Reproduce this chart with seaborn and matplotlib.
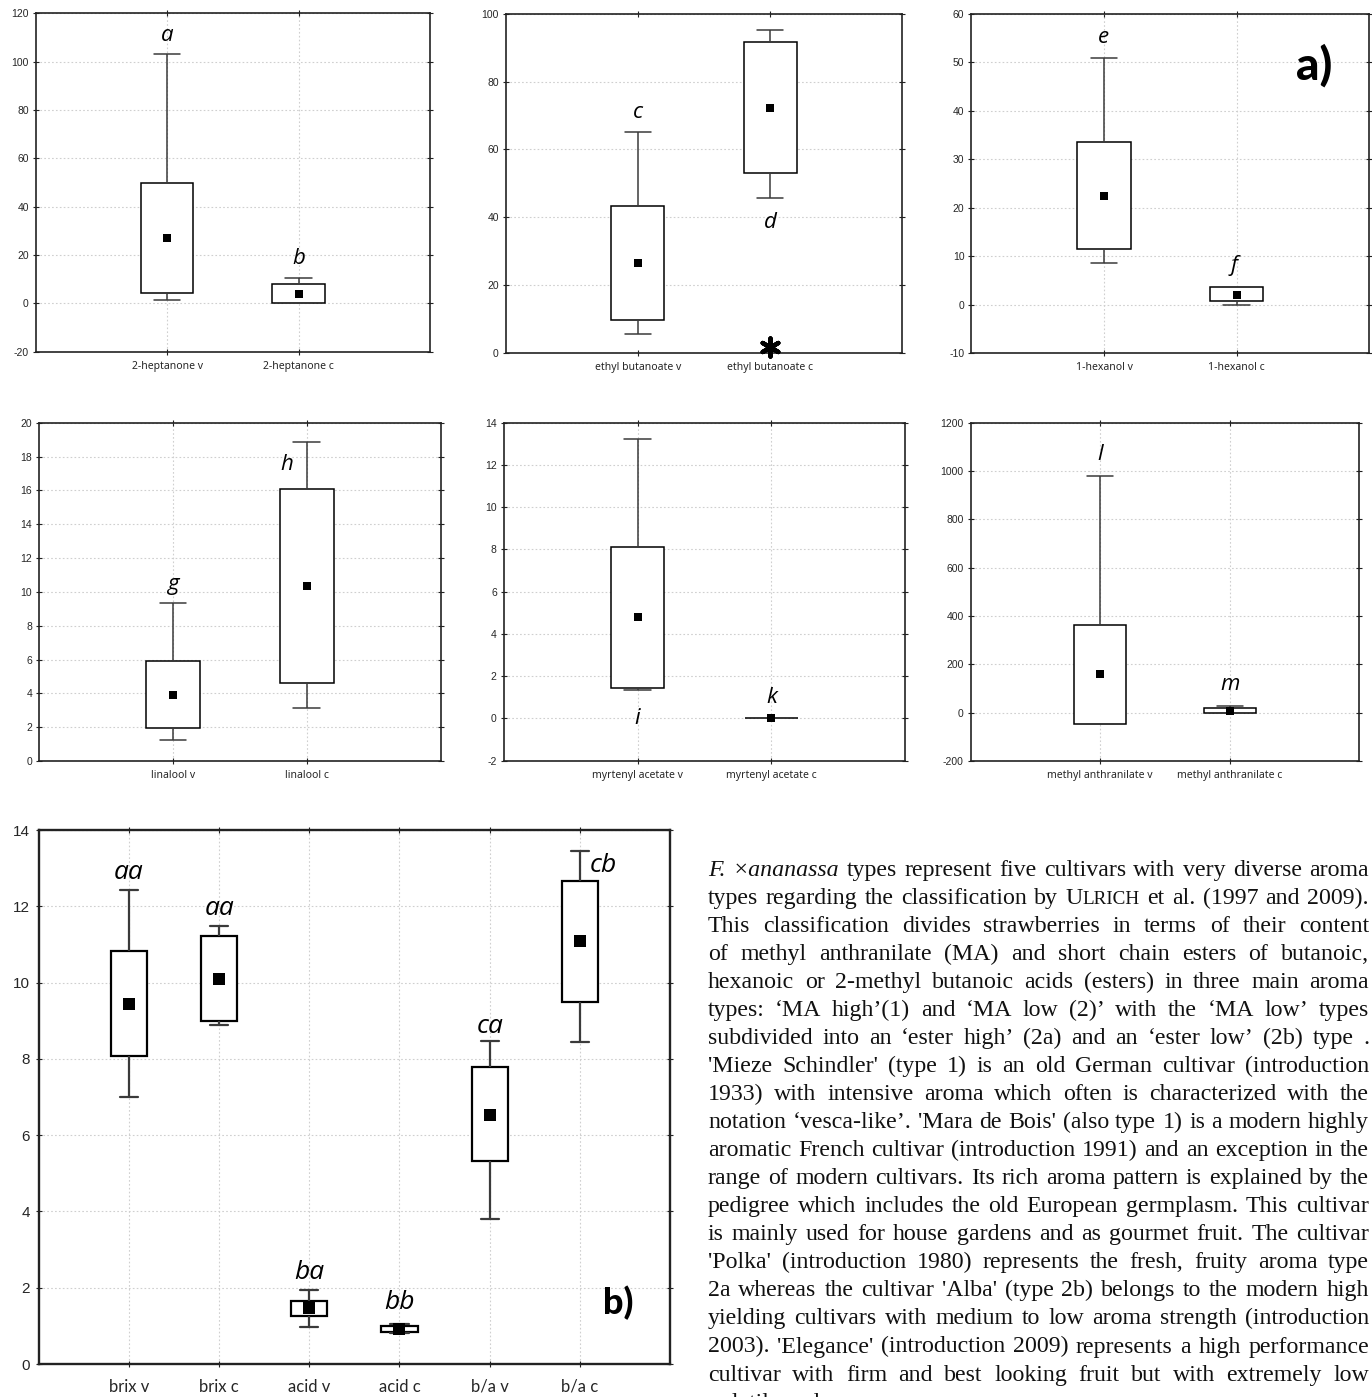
import numpy as np
import pandas as pd
import matplotlib
matplotlib.use("Agg")
import matplotlib.pyplot as plt
import seaborn as sns

W, H, DPI = 1372, 1397, 100

# ---------------- data (whisker low, box low, mean, box high, whisker high) -------------
hep_cats = ["2-heptanone v", "2-heptanone c"]
hep_wlo = [1.2, 0.0]
hep_blo = [4.3, 0.0]
hep_mean = [26.9, 3.9]
hep_bhi = [49.8, 7.9]
hep_whi = [103.2, 10.6]
hep_letters = ["a", "b"]
hep_letter_y = [111, 18.6]
hep_letter_dx = [0, 0]

eth_cats = ["ethyl butanoate v", "ethyl butanoate c"]
eth_wlo = [5.4, 45.7]
eth_blo = [9.6, 53.0]
eth_mean = [26.6, 72.2]
eth_bhi = [43.4, 91.6]
eth_whi = [65.1, 95.3]
eth_letters = ["c", "d"]
eth_letter_y = [70.9, 38.4]
eth_letter_dx = [0, 0]
eth_outlier_cat = ["ethyl butanoate c"]
eth_outlier_val = [1.6]

hex_cats = ["1-hexanol v", "1-hexanol c"]
hex_wlo = [8.7, 0.05]
hex_blo = [11.5, 0.7]
hex_mean = [22.5, 2.1]
hex_bhi = [33.6, 3.6]
hex_whi = [51.0, 3.6]
hex_letters = ["e", "f"]
hex_letter_y = [55.1, 8.2]
hex_letter_dx = [0, -0.02]

lin_cats = ["linalool v", "linalool c"]
lin_wlo = [1.26, 3.13]
lin_blo = [1.95, 4.63]
lin_mean = [3.92, 10.36]
lin_bhi = [5.89, 16.06]
lin_whi = [9.36, 18.86]
lin_letters = ["g", "h"]
lin_letter_y = [10.44, 17.5]
lin_letter_dx = [0, -0.15]

myr_cats = ["myrtenyl acetate v", "myrtenyl acetate c"]
myr_wlo = [1.33, 0.0]
myr_blo = [1.44, 0.0]
myr_mean = [4.78, 0.0]
myr_bhi = [8.13, 0.0]
myr_whi = [13.25, 0.0]
myr_letters = ["i", "k"]
myr_letter_y = [0.0, 0.98]
myr_letter_dx = [0, 0]

mea_cats = ["methyl anthranilate v", "methyl anthranilate c"]
mea_wlo = [-45.5, -2.8]
mea_blo = [-45.5, -2.8]
mea_mean = [158.6, 8.3]
mea_bhi = [364.0, 17.9]
mea_whi = [980.7, 27.6]
mea_letters = ["l", "m"]
mea_letter_y = [1067, 116]
mea_letter_dx = [0, 0]

qual_cats = ["brix v", "brix c", "acid v", "acid c", "b/a v", "b/a c"]
qual_wlo = [6.99, 8.89, 0.98, 0.82, 3.80, 8.44]
qual_blo = [8.07, 8.98, 1.25, 0.83, 5.31, 9.49]
qual_mean = [9.45, 10.09, 1.46, 0.92, 6.54, 11.08]
qual_bhi = [10.83, 11.21, 1.66, 0.99, 7.78, 12.66]
qual_whi = [12.44, 11.48, 1.95, 1.05, 8.46, 13.44]
qual_letters = ["aa", "aa", "ba", "bb", "ca", "cb"]
qual_letter_y = [12.89, 11.93, 2.40, 1.61, 8.84, 13.08]
qual_letter_dx = [0, 0, 0, 0, 0, 0.26]

text_lines = [
    "*F.* *×ananassa* types represent five cultivars with very diverse aroma",
    "types regarding the classification by ^ULRICH et al. (1997 and 2009).",
    "This classification divides strawberries in terms of their content",
    "of methyl anthranilate (MA) and short chain esters of butanoic,",
    "hexanoic or 2-methyl butanoic acids (esters) in three main aroma",
    "types: ‘MA high’(1) and ‘MA low (2)’ with the ‘MA low’ types",
    "subdivided into an ‘ester high’ (2a) and an ‘ester low’ (2b) type .",
    "'Mieze Schindler' (type 1) is an old German cultivar (introduction",
    "1933) with intensive aroma which often is characterized with the",
    "notation ‘vesca-like’. 'Mara de Bois' (also type 1) is a modern highly",
    "aromatic French cultivar (introduction 1991) and an exception in the",
    "range of modern cultivars. Its rich aroma pattern is explained by the",
    "pedigree which includes the old European germplasm. This cultivar",
    "is mainly used for house gardens and as gourmet fruit. The cultivar",
    "'Polka' (introduction 1980) represents the fresh, fruity aroma type",
    "2a whereas the cultivar 'Alba' (type 2b) belongs to the modern high",
    "yielding cultivars with medium to low aroma strength (introduction",
    "2003). 'Elegance' (introduction 2009) represents a high performance",
    "cultivar with firm and best looking fruit but with extremely low",
    "volatile and",
]

# ---------------- style ----------------
sns.set_style("white")
plt.rcParams["font.family"] = ["Liberation Sans", "DejaVu Sans"]

fig = plt.figure(figsize=(W / DPI, H / DPI), dpi=DPI)
fig.patch.set_facecolor("white")


def add_axes_px(left, top, right, bottom):
    return fig.add_axes([left / W, 1 - bottom / H, (right - left) / W, (bottom - top) / H])


def box_frame(cats, wlo, blo, mean, bhi, whi):
    rows = []
    for c, a, b, m, d, e in zip(cats, wlo, blo, mean, bhi, whi):
        for v in (a, b, m, d, e):
            rows.append((c, v))
    return pd.DataFrame(rows, columns=["cat", "val"])


def draw_panel(ax, cats, wlo, blo, mean, bhi, whi, yticks, letters, letter_y, letter_dx,
               lw=1.1, msize=5.5, tick_fs=7.5, cat_fs=7.5, cat_family="Noto Sans",
               letter_fs=16, xpad=4, ypad=2.5):
    df = box_frame(cats, wlo, blo, mean, bhi, whi)
    sns.boxplot(data=df, x="cat", y="val", order=cats, whis=np.inf, width=0.4,
                color="white", saturation=1, linecolor="black", linewidth=lw, ax=ax,
                medianprops={"visible": False},
                whiskerprops={"color": "#3a3a3a"}, capprops={"color": "#3a3a3a"})
    sns.stripplot(x=cats, y=mean, order=cats, jitter=False, marker="s", color="black",
                  size=msize, linewidth=0, ax=ax, zorder=6)
    ax.set_xlim(-1, len(cats))
    ax.set_ylim(yticks[0], yticks[-1])
    ax.set_yticks(yticks)
    ax.set_yticklabels([str(t) for t in yticks])
    ax.set_xticks(range(len(cats)))
    ax.set_xticklabels(cats, fontsize=cat_fs, family=cat_family)
    ax.grid(True, linestyle=(0, (1.5, 2)), color="#cfcfcf", linewidth=0.8)
    ax.set_axisbelow(True)
    for s in ax.spines.values():
        s.set_visible(True)
        s.set_color("#222222")
        s.set_linewidth(lw + 0.1)
    ax.tick_params(axis="both", which="major", direction="inout", length=5, width=0.8,
                   color="#222222", top=True, right=True, left=True, bottom=True)
    ax.tick_params(axis="y", labelsize=tick_fs, pad=ypad)
    ax.tick_params(axis="x", pad=xpad)
    ax.set_xlabel("")
    ax.set_ylabel("")
    for i, (lab, y, dx) in enumerate(zip(letters, letter_y, letter_dx)):
        ax.text(i + dx, y, lab, ha="center", va="center", style="italic",
                fontsize=letter_fs, family="Open Sans", color="black", zorder=7)


ax1 = add_axes_px(35.7, 13.3, 430, 351.7)
draw_panel(ax1, hep_cats, hep_wlo, hep_blo, hep_mean, hep_bhi, hep_whi,
           list(range(-20, 121, 20)), hep_letters, hep_letter_y, hep_letter_dx)

ax2 = add_axes_px(505.7, 14, 902.3, 352.7)
draw_panel(ax2, eth_cats, eth_wlo, eth_blo, eth_mean, eth_bhi, eth_whi,
           list(range(0, 101, 20)), eth_letters, eth_letter_y, eth_letter_dx)
sns.stripplot(x=eth_outlier_cat, y=eth_outlier_val, order=eth_cats, jitter=False,
              marker=(6, 2, 0), color="black", size=13, linewidth=3.2, ax=ax2, zorder=8,
              clip_on=False)
ax2.set_xlim(-1, 2)
ax2.set_ylim(0, 100)

ax3 = add_axes_px(971.3, 14, 1369.3, 353.3)
draw_panel(ax3, hex_cats, hex_wlo, hex_blo, hex_mean, hex_bhi, hex_whi,
           list(range(-10, 61, 10)), hex_letters, hex_letter_y, hex_letter_dx)
fig.text(1314 / W, 1 - 66 / H, "a)", ha="center", va="center", fontsize=33,
         family=["Lato", "DejaVu Sans"], weight="black", color="black")

ax4 = add_axes_px(39, 422.7, 440.7, 761)
draw_panel(ax4, lin_cats, lin_wlo, lin_blo, lin_mean, lin_bhi, lin_whi,
           list(range(0, 21, 2)), lin_letters, lin_letter_y, lin_letter_dx)

ax5 = add_axes_px(503.7, 422.7, 905.3, 760.7)
draw_panel(ax5, myr_cats, myr_wlo, myr_blo, myr_mean, myr_bhi, myr_whi,
           list(range(-2, 15, 2)), myr_letters, myr_letter_y, myr_letter_dx)

ax6 = add_axes_px(970.7, 422.7, 1359.3, 761)
draw_panel(ax6, mea_cats, mea_wlo, mea_blo, mea_mean, mea_bhi, mea_whi,
           list(range(-200, 1201, 200)), mea_letters, mea_letter_y, mea_letter_dx)

ax7 = add_axes_px(38.8, 830, 670, 1364)
draw_panel(ax7, qual_cats, qual_wlo, qual_blo, qual_mean, qual_bhi, qual_whi,
           list(range(0, 15, 2)), qual_letters, qual_letter_y, qual_letter_dx,
           lw=1.6, msize=8, tick_fs=11, cat_fs=12, cat_family="Lato",
           letter_fs=19, xpad=8, ypad=4)
fig.text(618 / W, 1 - 1303 / H, "b)", ha="center", va="center", fontsize=26,
         family=["Lato", "DejaVu Sans"], weight="black", color="black")

# ---------------- justified paragraph ----------------
renderer = fig.canvas.get_renderer()
SERIF = ["Liberation Serif", "DejaVu Serif"]
TEXT_LEFT, TEXT_RIGHT = 708, 1369
BASE0, STEP = 875.5, 28.06


def run_width(s, fs, style):
    t = fig.text(0, 0, s, fontsize=fs, family=SERIF, style=style)
    w = t.get_window_extent(renderer).width
    t.remove()
    return w


def parse_word(word, fs):
    if word.startswith("*") and word.endswith("*"):
        return [(word[1:-1], fs, "italic")]
    if word.startswith("^"):
        w = word[1:]
        return [(w[0], fs, "normal"), (w[1:], fs * 0.8, "normal")]
    return [(word, fs, "normal")]


def word_width(runs):
    return sum(run_width(s, f, st) for s, f, st in runs)


base_fs = 10.0
space_base = run_width("a a", base_fs, "normal") - run_width("aa", base_fs, "normal")
max_nat = 0
for line in text_lines[:-1]:
    words = line.split(" ")
    nat = sum(word_width(parse_word(w, base_fs)) for w in words) + (len(words) - 1) * space_base
    max_nat = max(max_nat, nat)
avail = TEXT_RIGHT - TEXT_LEFT
fs = base_fs * avail / max_nat * 0.995
space_w = space_base * fs / base_fs

for i, line in enumerate(text_lines):
    words = [parse_word(w, fs) for w in line.split(" ")]
    widths = [[run_width(s, f, st) for s, f, st in runs] for runs in words]
    total = sum(sum(ws) for ws in widths)
    justified = i < len(text_lines) - 1
    gap = (avail - total) / (len(words) - 1) if (justified and len(words) > 1) else space_w
    x = TEXT_LEFT
    yb = 1 - (BASE0 + STEP * i) / H
    for runs, ws in zip(words, widths):
        for (s, f, st), w in zip(runs, ws):
            fig.text(x / W, yb, s, fontsize=f, family=SERIF, style=st,
                     ha="left", va="baseline", color="#111111")
            x += w
        x += gap

fig.savefig("out.png", dpi=DPI, facecolor="white")
